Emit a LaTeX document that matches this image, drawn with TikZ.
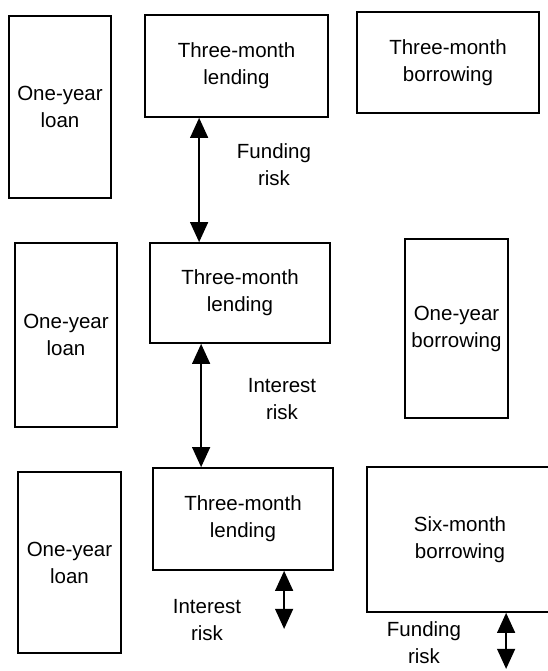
\documentclass[tikz,border=0pt]{standalone}
\usepackage{fontspec}
\setmainfont{Liberation Sans}
\usetikzlibrary{arrows.meta,calc}

\begin{document}
\begin{tikzpicture}[x=0.03cm, y=-0.03cm,
    every node/.style={font=\fontsize{17.5}{23}\selectfont, align=center},
    box/.style={draw, line width=1.5pt, inner sep=0pt},
    risk/.style={{Triangle[length=0.6cm,width=0.54cm]}-{Triangle[length=0.6cm,width=0.54cm]}, line width=1.1pt}]
    \useasboundingbox (0,0) rectangle (547,671);

    % first row
    \node[box, minimum width=3.06cm, minimum height=5.46cm] (loanA) at (60,107) {One-year\\loan};
    \node[box, minimum width=5.49cm, minimum height=3.06cm] (lendA) at (236.5,66) {Three-month\\lending};
    \node[box, minimum width=5.46cm, minimum height=3.03cm] (borrowA) at (448,62.5) {Three-month\\borrowing};

    % second row
    \node[box, minimum width=3.06cm, minimum height=5.52cm] (loanB) at (66,335) {One-year\\loan};
    \node[box, minimum width=5.4cm, minimum height=3.0cm] (lendB) at (240,293) {Three-month\\lending};
    \node[box, minimum width=3.09cm, minimum height=5.37cm] (borrowB) at (456.5,328.5) {One-year\\borrowing};

    % third row
    \node[box, minimum width=3.09cm, minimum height=5.43cm] (loanC) at (69.5,562.5) {One-year\\loan};
    \node[box, minimum width=5.4cm, minimum height=3.06cm] (lendC) at (243,519) {Three-month\\lending};
    \node[box, minimum width=5.58cm, minimum height=4.35cm] (borrowC) at (460,539.5) {Six-month\\borrowing};

    % risk between the lending boxes
    \coordinate (fundA) at ($(lendA.south west)+(55,0)$);
    \draw[risk] (fundA) -- (fundA |- lendB.north);
    \node (fundtextA) at (274,165) {Funding\\risk};

    \coordinate (intB) at ($(lendB.south west)+(52,0)$);
    \draw[risk] (intB) -- (intB |- lendC.north);
    \node (inttextB) at (282,399) {Interest\\risk};

    % short arrows below the last row
    \coordinate (intC) at ($(lendC.south west)+(132,0)$);
    \coordinate (intCend) at ($(intC)+(0,58)$);
    \draw[risk] (intC) -- (intCend);
    \node (inttextC) at (207,620) {Interest\\risk};

    \coordinate (fundC) at ($(borrowC.south west)+(140,0)$);
    \coordinate (fundCend) at ($(fundC)+(0,56)$);
    \draw[risk] (fundC) -- (fundCend);
    \node (fundtextC) at (424,643) {Funding\\risk};
\end{tikzpicture}
\end{document}
